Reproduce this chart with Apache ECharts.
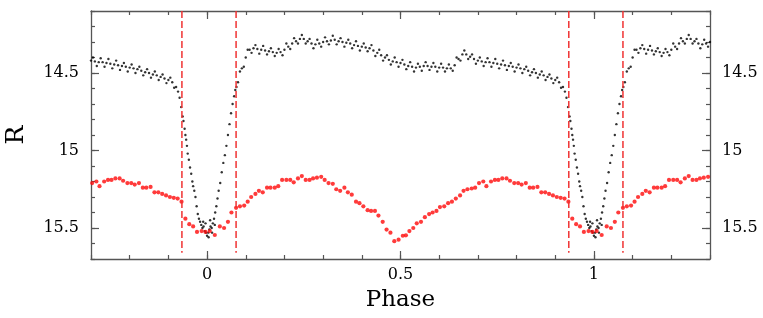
<!DOCTYPE html>
<html><head><meta charset="utf-8">
<script src="https://cdn.jsdelivr.net/npm/echarts@6/dist/echarts.min.js"></script>
<style>html,body{margin:0;padding:0;background:#fff}#c{width:763px;height:318px}</style>
</head><body><div id="c"></div>
<script>
// ---- data (one folded cycle; the plot repeats it at phase +/-1 as phase diagrams do) ----
const blackPhase = [0.08,0.09,0.10,0.11,0.12,0.13,0.14,0.15,0.16,0.17,0.18,0.19,0.20,0.21,0.22,0.23,0.24,0.25,0.26,0.27,0.28,0.29,0.30,0.31,0.32,0.33,0.34,0.35,0.36,0.37,0.38,0.39,0.40,0.41,0.42,0.43,0.44,0.45,0.46,0.47,0.48,0.49,0.50,0.51,0.52,0.53,0.54,0.55,0.56,0.57,0.58,0.59,0.60,0.61,0.62,0.63,0.64,0.65,0.66,0.67,0.68,0.69,0.70,0.71,0.72,0.73,0.74,0.75,0.76,0.77,0.78,0.79,0.80,0.81,0.82,0.83,0.84,0.85,0.86,0.87,0.88,0.89,0.90,0.91,0.92];
const blackMid = [14.56,14.47,14.40,14.35,14.34,14.345,14.35,14.355,14.36,14.365,14.37,14.365,14.35,14.33,14.31,14.295,14.28,14.28,14.295,14.31,14.315,14.31,14.30,14.295,14.29,14.285,14.295,14.30,14.305,14.31,14.32,14.325,14.33,14.335,14.34,14.355,14.37,14.385,14.40,14.415,14.425,14.43,14.435,14.445,14.455,14.46,14.465,14.46,14.455,14.455,14.46,14.46,14.465,14.465,14.47,14.47,14.45,14.41,14.38,14.38,14.395,14.41,14.42,14.425,14.43,14.43,14.435,14.44,14.445,14.45,14.455,14.46,14.465,14.47,14.475,14.485,14.495,14.50,14.51,14.515,14.525,14.535,14.545,14.56,14.59];
const blackUpPhase = [0.085,0.105,0.125,0.145,0.165,0.185,0.205,0.225,0.245,0.265,0.285,0.305,0.325,0.345,0.365,0.385,0.405,0.425,0.445,0.465,0.485,0.505,0.525,0.545,0.565,0.585,0.605,0.625,0.645,0.665,0.685,0.705,0.725,0.745,0.765,0.785,0.805,0.825,0.845,0.865,0.885,0.905];
const blackUp = [14.49,14.35,14.32,14.325,14.34,14.345,14.31,14.275,14.255,14.28,14.285,14.27,14.26,14.275,14.285,14.295,14.31,14.32,14.35,14.385,14.40,14.415,14.43,14.44,14.43,14.435,14.44,14.445,14.40,14.355,14.38,14.40,14.405,14.41,14.42,14.435,14.445,14.46,14.475,14.49,14.51,14.53];
const blackLowPhase = [0.095,0.115,0.135,0.155,0.175,0.195,0.215,0.235,0.255,0.275,0.295,0.315,0.335,0.355,0.375,0.395,0.415,0.435,0.455,0.475,0.495,0.515,0.535,0.555,0.575,0.595,0.615,0.635,0.655,0.675,0.695,0.715,0.735,0.755,0.775,0.795,0.815,0.835,0.855,0.875,0.895,0.915];
const blackLow = [14.46,14.37,14.375,14.38,14.39,14.385,14.345,14.31,14.31,14.34,14.33,14.315,14.315,14.33,14.34,14.355,14.36,14.39,14.42,14.445,14.46,14.475,14.49,14.485,14.48,14.49,14.49,14.485,14.42,14.41,14.44,14.455,14.46,14.47,14.48,14.49,14.50,14.515,14.53,14.545,14.565,14.595];
const eclPhase = [-0.075,-0.071,-0.067,-0.063,-0.061,-0.058,-0.056,-0.054,-0.052,-0.050,-0.047,-0.044,-0.041,-0.038,-0.036,-0.033,-0.030,-0.027,-0.024,-0.021,-0.018,-0.015,-0.012,-0.010,-0.009,-0.006,-0.004,-0.003,0.000,0.003,0.004,0.006,0.008,0.009,0.012,0.013,0.015,0.018,0.020,0.021,0.024,0.027,0.030,0.034,0.038,0.042,0.046,0.050,0.054,0.058,0.062,0.066,0.070,0.073,0.076];
const eclMag = [14.62,14.66,14.72,14.78,14.81,14.86,14.90,14.93,14.97,15.02,15.06,15.11,15.15,15.20,15.23,15.26,15.30,15.36,15.41,15.44,15.46,15.48,15.50,15.46,15.49,15.52,15.47,15.53,15.55,15.53,15.56,15.51,15.45,15.49,15.50,15.53,15.47,15.44,15.48,15.40,15.36,15.31,15.26,15.21,15.14,15.08,15.03,14.97,14.90,14.83,14.76,14.70,14.65,14.61,14.59];
const redPhase = [0.007,0.020,0.033,0.044,0.054,0.063,0.075,0.085,0.096,0.105,0.114,0.125,0.134,0.144,0.155,0.164,0.175,0.184,0.194,0.205,0.215,0.224,0.235,0.245,0.255,0.265,0.274,0.284,0.295,0.304,0.314,0.325,0.334,0.344,0.355,0.364,0.374,0.385,0.394,0.404,0.415,0.424,0.434,0.443,0.454,0.464,0.474,0.484,0.495,0.506,0.514,0.523,0.533,0.542,0.553,0.563,0.574,0.583,0.593,0.602,0.613,0.623,0.633,0.643,0.654,0.663,0.673,0.684,0.693,0.703,0.714,0.722,0.734,0.744,0.753,0.763,0.774,0.783,0.794,0.804,0.813,0.824,0.834,0.843,0.854,0.864,0.874,0.884,0.894,0.904,0.914,0.924,0.934,0.944,0.954,0.964,0.974,0.986,0.996];
const redMag = [15.52,15.545,15.49,15.50,15.46,15.40,15.37,15.36,15.355,15.33,15.30,15.28,15.26,15.27,15.24,15.24,15.24,15.23,15.19,15.19,15.19,15.205,15.18,15.165,15.19,15.19,15.18,15.175,15.17,15.19,15.21,15.215,15.25,15.26,15.24,15.27,15.285,15.33,15.34,15.36,15.385,15.39,15.39,15.42,15.46,15.51,15.53,15.585,15.575,15.55,15.547,15.52,15.50,15.47,15.46,15.43,15.41,15.40,15.39,15.365,15.36,15.34,15.33,15.31,15.29,15.26,15.25,15.245,15.24,15.21,15.20,15.23,15.20,15.19,15.19,15.18,15.18,15.195,15.21,15.21,15.22,15.21,15.24,15.24,15.235,15.27,15.27,15.28,15.29,15.30,15.305,15.31,15.33,15.44,15.475,15.49,15.525,15.52,15.525];
const dashPhase = [-0.065, 0.075, 0.935, 1.075];
const xTickLabels = [0, 0.5, 1];
const yTickLabels = [14.5, 15, 15.5];
const xMin = -0.3, xMax = 1.3, yMin = 14.1, yMax = 15.7, dashBottom = 15.66;

// ---- fold the cycle over the plotted phase range ----
function folded(ph, mg) {
  const out = [];
  for (const shift of [-1, 0, 1]) {
    for (let i = 0; i < ph.length; i++) {
      const p = ph[i] + shift;
      if (p >= xMin - 1e-9 && p <= xMax + 1e-9) out.push([p, mg[i]]);
    }
  }
  return out;
}
const blackData = [].concat(
  folded(blackPhase, blackMid), folded(blackUpPhase, blackUp),
  folded(blackLowPhase, blackLow), folded(eclPhase, eclMag));
const redData = folded(redPhase, redMag);

const FONT = 'DejaVu Serif';
const frame = { show: true, onZero: false, lineStyle: { color: '#555', width: 1.3 } };
const noLine = { show: false, onZero: false };
function xAx(pos, major, labels) {
  return {
    type: 'value', position: pos, min: xMin, max: xMax, interval: 0.1,
    axisLine: major ? noLine : frame,
    splitLine: { show: false },
    axisTick: major ? { show: true, inside: true, length: 8, customValues: xTickLabels, lineStyle: { color: '#555', width: 1.2 } }
                    : { show: true, inside: true, length: 4, lineStyle: { color: '#555', width: 1.2 } },
    axisLabel: labels ? { show: true, customValues: xTickLabels, formatter: v => String(+v.toFixed(2)), margin: 8,
                          fontFamily: FONT, fontSize: 16, color: '#000' } : { show: false },
    name: labels ? 'Phase' : '', nameLocation: 'middle', nameGap: 30,
    nameTextStyle: { fontFamily: FONT, fontSize: 23, color: '#000' }
  };
}
function yAx(pos, major, labels) {
  return {
    type: 'value', position: pos, inverse: true, min: yMin, max: yMax, interval: 0.1,
    axisLine: major ? noLine : frame,
    splitLine: { show: false },
    axisTick: major ? { show: true, inside: true, length: 8, customValues: yTickLabels, lineStyle: { color: '#555', width: 1.2 } }
                    : { show: true, inside: true, length: 4, lineStyle: { color: '#555', width: 1.2 } },
    axisLabel: labels ? { show: true, customValues: yTickLabels, formatter: v => String(+v.toFixed(2)), margin: 12,
                          fontFamily: FONT, fontSize: 16, color: '#000' } : { show: false },
    name: (labels && pos === 'left') ? 'R' : '', nameLocation: 'middle', nameGap: 62,
    nameTextStyle: { fontFamily: FONT, fontSize: 25, color: '#000' }
  };
}

const series = [
  { type: 'scatter', data: blackData, symbol: 'circle', symbolSize: 2.4,
    itemStyle: { color: '#000', opacity: 0.8 }, silent: true, animation: false, z: 2 },
  { type: 'scatter', data: redData, symbol: 'circle', symbolSize: 4.2,
    itemStyle: { color: '#ff0a0a' }, silent: true, animation: false, z: 3 }
];
dashPhase.forEach(p => series.push({
  type: 'line', data: [[p, yMin], [p, dashBottom]], symbol: 'none', silent: true, animation: false, z: 4,
  lineStyle: { color: '#f03232', width: 1.5, type: [7, 3] }
}));

const chart = echarts.init(document.getElementById('c'), null, { renderer: 'canvas' });
chart.setOption({
  backgroundColor: '#fff',
  animation: false,
  grid: { left: 91, right: 53, top: 11, bottom: 59, outerBoundsMode: 'none' },
  xAxis: [xAx('bottom', false, true), xAx('bottom', true, false), xAx('top', false, false), xAx('top', true, false)],
  yAxis: [yAx('left', false, true), yAx('left', true, false), yAx('right', false, true), yAx('right', true, false)],
  series
});
</script></body></html>
